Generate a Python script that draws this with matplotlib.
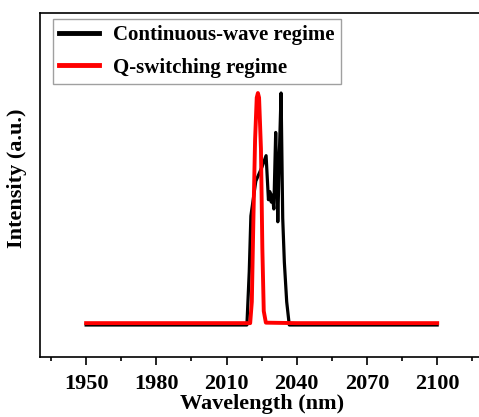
import matplotlib

matplotlib.use('Agg')
import matplotlib.pyplot as plt
from matplotlib.ticker import MultipleLocator, NullLocator

plt.rcParams['font.family'] = ['Liberation Serif', 'DejaVu Serif']
plt.rcParams['font.weight'] = 'bold'

# continuous-wave spectrum (normalized)
wl_cw = [1950, 2000, 2018.7, 2019.7, 2020.4, 2022.5, 2025.1, 2026.9, 2027.9, 2028.5,
         2029.1, 2029.6, 2030.2, 2031.0, 2031.5, 2031.9, 2032.6, 2033.3, 2034.0,
         2034.7, 2035.7, 2036.8, 2060, 2100]
int_cw = [0, 0, 0, 0.23, 0.47, 0.62, 0.68, 0.73, 0.54, 0.575,
          0.53, 0.56, 0.50, 0.83, 0.63, 0.445, 0.75, 1.0, 0.46,
          0.27, 0.10, 0, 0, 0]

# Q-switching spectrum (normalized)
wl_qs = [1950, 2000, 2020.1, 2020.8, 2021.5, 2022.2, 2022.9, 2023.4, 2023.9, 2024.7,
         2025.3, 2025.9, 2026.8, 2040, 2070, 2100]
int_qs = [0.008, 0.008, 0.008, 0.1, 0.47, 0.80, 0.98, 1.0, 0.98, 0.76,
          0.33, 0.06, 0.01, 0.008, 0.008, 0.008]

W, H = 479, 417
fig = plt.figure(figsize=(W / 100, H / 100), dpi=100)
ax = fig.add_axes([40 / W, 60 / H, 444 / W, 344 / H])

ax.plot(wl_cw, int_cw, color='black', lw=2.3, label='Continuous-wave regime')
ax.plot(wl_qs, int_qs, color='red', lw=2.8, label='Q-switching regime')

ax.set_xlim(1930.3, 2120)
ax.set_ylim(-0.138, 1.345)
ax.xaxis.set_major_locator(MultipleLocator(30))
ax.xaxis.set_minor_locator(MultipleLocator(15))
ax.yaxis.set_major_locator(NullLocator())
ax.tick_params(axis='x', which='major', direction='out', length=6, width=1.2,
               labelsize=16, pad=6)
ax.tick_params(axis='x', which='minor', direction='out', length=3, width=1.2)
for lbl in ax.get_xticklabels():
    lbl.set_fontweight('bold')
for sp in ax.spines.values():
    sp.set_linewidth(1.2)

ax.set_xlabel('Wavelength (nm)', fontsize=16, fontweight='bold', labelpad=0)
ax.set_ylabel('Intensity (a.u.)', fontsize=16, fontweight='bold')
ax.yaxis.set_label_coords(-0.029, 0.52)

leg = ax.legend(loc='upper left', bbox_to_anchor=(53 / W, 1 - 19 / H),
                bbox_transform=fig.transFigure, borderaxespad=0,
                prop={'size': 15, 'weight': 'bold'}, fancybox=False,
                handlelength=1.9, handletextpad=0.7, labelspacing=0.6,
                borderpad=0.3)
leg.get_frame().set_edgecolor('#888888')
leg.get_frame().set_linewidth(1.0)
for line in leg.get_lines():
    line.set_linewidth(3.5)

fig.savefig('out.png', dpi=100)
